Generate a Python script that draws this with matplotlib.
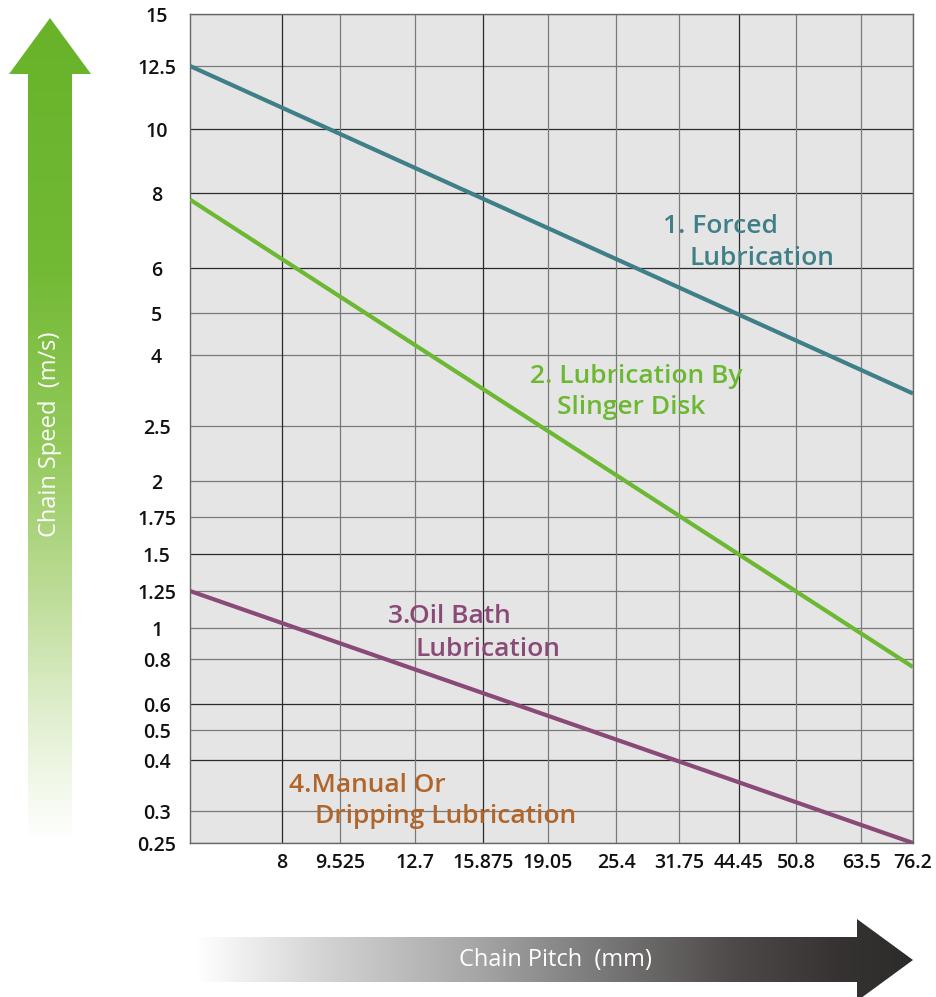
import numpy as np
import matplotlib
matplotlib.use("Agg")
import matplotlib.pyplot as plt
from matplotlib.patches import Polygon
from matplotlib.colors import LinearSegmentedColormap

plt.rcParams['font.family'] = ['Open Sans', 'Noto Sans', 'DejaVu Sans']

# ---------------- data ----------------
pitch_ticks = [8, 9.525, 12.7, 15.875, 19.05, 25.4, 31.75, 44.45, 50.8, 63.5, 76.2]
pitch_labels = ["8", "9.525", "12.7", "15.875", "19.05", "25.4", "31.75", "44.45", "50.8", "63.5", "76.2"]
pitch_min = 6.35
speed_ticks = [15, 12.5, 10, 8, 6, 5, 4, 2.5, 2, 1.75, 1.5, 1.25, 1, 0.8, 0.6, 0.5, 0.4, 0.3, 0.25]
speed_labels = ["15", "12.5", "10", "8", "6", "5", "4", "2.5", "2", "1.75", "1.5", "1.25", "1",
                "0.8", "0.6", "0.5", "0.4", "0.3", "0.25"]

line_pitch = [6.35, 76.2]
forced = [12.5, 3.1]
slinger = [7.8, 0.76]
oil_bath = [1.25, 0.25]

# scale geometry (relative placement of the printed chart's gridlines)
x_scale_vals = [6.35] + pitch_ticks
x_scale_pos = [0, 92, 150, 225, 293, 358, 426, 489, 549, 606, 671, 723]
y_scale_vals = speed_ticks[::-1]
y_scale_pos = [0, 32, 83, 113, 139, 184, 215, 252, 289, 326, 362, 417, 488, 530, 575, 650, 714, 777, 829]

lx = np.log(x_scale_vals)
ly = np.log(y_scale_vals)


def xf(v):
    v = np.clip(np.asarray(v, dtype=float), 1e-6, None)
    return np.interp(np.log(v), lx, x_scale_pos)


def xi(p):
    return np.exp(np.interp(np.asarray(p, dtype=float), x_scale_pos, lx))


def yf(v):
    v = np.clip(np.asarray(v, dtype=float), 1e-6, None)
    return np.interp(np.log(v), ly, y_scale_pos)


def yi(p):
    return np.exp(np.interp(np.asarray(p, dtype=float), y_scale_pos, ly))


W, H = 936, 997
fig = plt.figure(figsize=(W / 100, H / 100), dpi=100)

L, R, T, B = 190, 913, 14, 843
ax = fig.add_axes([L / W, (H - B) / H, (R - L) / W, (B - T) / H])
ax.set_facecolor('#e5e5e5')
ax.set_xscale('function', functions=(xf, xi))
ax.set_yscale('function', functions=(yf, yi))
ax.set_xlim(pitch_min, 76.2)
ax.set_ylim(0.25, 15)

dark_h = {10, 8, 6, 1.5, 0.6, 0.4}
for v in speed_ticks:
    c = '#2a2a2a' if v in dark_h else '#7a7a7a'
    ax.axhline(v, color=c, lw=0.9, zorder=1)
dark_v = {8, 15.875, 44.45}
for v in pitch_ticks:
    c = '#2a2a2a' if v in dark_v else '#7a7a7a'
    ax.axvline(v, color=c, lw=0.9, zorder=1)

ax.plot(line_pitch, forced, color='#3f7f87', lw=3.0, zorder=3, solid_capstyle='butt')
ax.plot(line_pitch, slinger, color='#6cb833', lw=3.0, zorder=3, solid_capstyle='butt')
ax.plot(line_pitch, oil_bath, color='#8a4a77', lw=3.0, zorder=3, solid_capstyle='butt')

ax.set_xticks(pitch_ticks)
ax.set_xticklabels(pitch_labels)
ax.set_yticks(speed_ticks)
ax.set_yticklabels(speed_labels)
ax.minorticks_off()
ax.tick_params(axis='both', length=0, labelsize=14, labelcolor='#111111')
ax.tick_params(axis='y', pad=24)
ax.tick_params(axis='x', pad=7)
for lab in ax.get_yticklabels():
    lab.set_horizontalalignment('center')
    lab.set_fontweight('semibold')
for lab in ax.get_xticklabels():
    lab.set_fontweight('semibold')
for s in ax.spines.values():
    s.set_color('#666666')
    s.set_linewidth(1.0)

# ---------------- overlay (pixel coordinates) ----------------
ov = fig.add_axes([0, 0, 1, 1])
ov.set_xlim(0, W)
ov.set_ylim(H, 0)
ov.axis('off')
ov.patch.set_alpha(0)

# green vertical arrow
green_poly = Polygon([(28, 840), (28, 74), (9, 74), (50, 18), (91, 74), (72, 74), (72, 840)],
                     closed=True, facecolor='none', edgecolor='none')
ov.add_patch(green_poly)
gcm = LinearSegmentedColormap.from_list('g', [
    (0.0, '#68b32a'), (0.3, '#72b934'), (0.52, '#93c95b'), (0.7, '#bddc97'),
    (0.85, '#e0efcf'), (1.0, '#ffffff')])
grad = np.linspace(0, 1, 256).reshape(-1, 1)
im = ov.imshow(grad, cmap=gcm, extent=(9, 91, 840, 18), aspect='auto', zorder=2)
im.set_clip_path(green_poly)
ov.text(50, 434, "Chain Speed  (m/s)", rotation=90, color='white', fontsize=17,
        ha='center', va='center', zorder=3)

# grey horizontal arrow
grey_poly = Polygon([(195, 937), (857, 937), (857, 919), (913, 960), (857, 1001),
                     (857, 982), (195, 982)], closed=True, facecolor='none', edgecolor='none')
ov.add_patch(grey_poly)
kcm = LinearSegmentedColormap.from_list('k', [
    (0.0, '#ffffff'), (0.18, '#d2d3d2'), (0.4, '#a3a4a3'), (0.55, '#7e7d7d'),
    (0.75, '#4e4a49'), (0.9, '#363232'), (1.0, '#2d2b2b')])
grad2 = np.linspace(0, 1, 256).reshape(1, -1)
im2 = ov.imshow(grad2, cmap=kcm, extent=(195, 913, 1001, 919), aspect='auto', zorder=2)
im2.set_clip_path(grey_poly)
ov.text(555, 960, "Chain Pitch  (mm)", color='white', fontsize=17,
        ha='center', va='center', zorder=3)

# annotations
ann_fs = 19
ann_w = 'semibold'
ov.text(663, 233, "1. Forced", color='#3f7f87', fontsize=ann_fs, va='baseline', fontweight=ann_w)
ov.text(690, 265, "Lubrication", color='#3f7f87', fontsize=ann_fs, va='baseline', fontweight=ann_w)
ov.text(530, 383, "2. Lubrication By", color='#6cb833', fontsize=ann_fs, va='baseline', fontweight=ann_w)
ov.text(557, 414, "Slinger Disk", color='#6cb833', fontsize=ann_fs, va='baseline', fontweight=ann_w)
ov.text(388, 623, "3.Oil Bath", color='#8a4a77', fontsize=ann_fs, va='baseline', fontweight=ann_w)
ov.text(415, 656, "Lubrication", color='#8a4a77', fontsize=ann_fs, va='baseline', fontweight=ann_w)
ov.text(289, 792, "4.Manual Or", color='#b0652a', fontsize=ann_fs, va='baseline', fontweight=ann_w)
ov.text(315, 823, "Dripping Lubrication", color='#b0652a', fontsize=ann_fs, va='baseline', fontweight=ann_w)

fig.savefig('out.png', dpi=100)
